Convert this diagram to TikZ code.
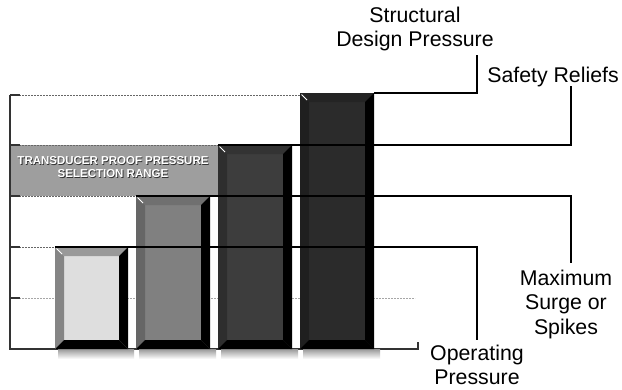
\documentclass[tikz,border=0pt]{standalone}
\usepackage{fontspec}
\setmainfont{Liberation Sans}
\newcommand\bevbar[7]{%
  \shade[top color=black!40, bottom color=white] (#1+3,#4) rectangle (#3+6,#4+10);
  \fill[#5] (#1,#2) rectangle (#3,#4);
  \fill[#6] (#1,#2) -- (#3,#2) -- (#3-9,#2+9) -- (#1+9,#2+9) -- cycle;
  \fill[#7] (#1,#2) -- (#1+9,#2+9) -- (#1+9,#4-9) -- (#1,#4) -- cycle;
  \fill[black] (#3,#2) -- (#3,#4) -- (#3-9,#4-9) -- (#3-9,#2+9) -- cycle;
  \fill[black] (#1,#4) -- (#3,#4) -- (#3-9,#4-9) -- (#1+9,#4-9) -- cycle;
  \draw[white, line width=0.8pt] (#1+1.5,#2+1.5) -- (#1+7,#2+7);
}
\begin{document}
\begin{tikzpicture}[x=1pt,y=-1pt,
  leader/.style={line width=1.4pt, black},
  gridl/.style={black!60, line width=0.7pt, dash pattern=on 2pt off 1pt},
  tick/.style={black!80, line width=1.6pt},
  lbl/.style={font=\fontsize{21.3}{24.5}\selectfont, align=center, inner sep=0pt},
  bandtxt/.style={font=\bfseries\fontsize{11.5}{13}\selectfont, align=center, inner sep=0pt}]
\useasboundingbox (0,0) rectangle (622,389);
\fill[white] (0,0) rectangle (622,389);
% band
\fill[black!38] (10,145) rectangle (218,196);
\node[bandtxt, text=black!80] at (113.8,167.8) {TRANSDUCER PROOF PRESSURE\\SELECTION RANGE};
\node[bandtxt, text=white] (band) at (113,167) {TRANSDUCER PROOF PRESSURE\\SELECTION RANGE};
% grid lines
\draw[gridl] (10,95) -- (300,95);
\draw[gridl] (10,145) -- (218,145);
\draw[gridl] (10,196) -- (136,196);
\draw[gridl] (10,247) -- (55,247);
\draw[gridl, black!35] (10,298) -- (415,298);
\draw[gridl, black!35] (374,247) -- (417,247);
% axis
\draw[black!80, line width=1.3pt] (10,95) -- (10,349) -- (418,349) -- (418,342);
\foreach \yy in {95,145,196,247,298} \draw[tick] (10,\yy) -- (20,\yy);
% bars
\bevbar{55}{247}{128}{349}{black!13}{black!40}{black!48}
\bevbar{136}{196}{210}{349}{black!50}{black!56}{black!60}
\bevbar{218}{145}{292}{349}{black!76}{black!80}{black!82}
\bevbar{300}{93}{374}{349}{black!83}{black!86}{black!88}
\coordinate (b1) at (55,247);
\coordinate (b2) at (136,196);
\coordinate (b3) at (218,145);
\coordinate (b4) at (374,93);
% labels
\node[lbl] (sdp) at (415,29) {Structural\\Design Pressure};
\node[lbl] (sr) at (553,77) {Safety Reliefs};
\node[lbl] (ms) at (566,304) {Maximum\\Surge or\\Spikes};
\node[lbl] (op) at (477,365) {Operating\\Pressure};
\coordinate (sdpE) at (477,55);
\coordinate (srE) at (571,86);
\coordinate (msE) at (571,263);
\coordinate (opE) at (477,340);
% leaders
\draw[leader] (b4) -- (b4 -| sdpE) -- (sdpE);
\draw[leader] (b3) -- (b3 -| srE) -- (srE);
\draw[leader] (b2) -- (b2 -| msE) -- (msE);
\draw[leader] (b1) -- (b1 -| opE) -- (opE);
\end{tikzpicture}
\end{document}
